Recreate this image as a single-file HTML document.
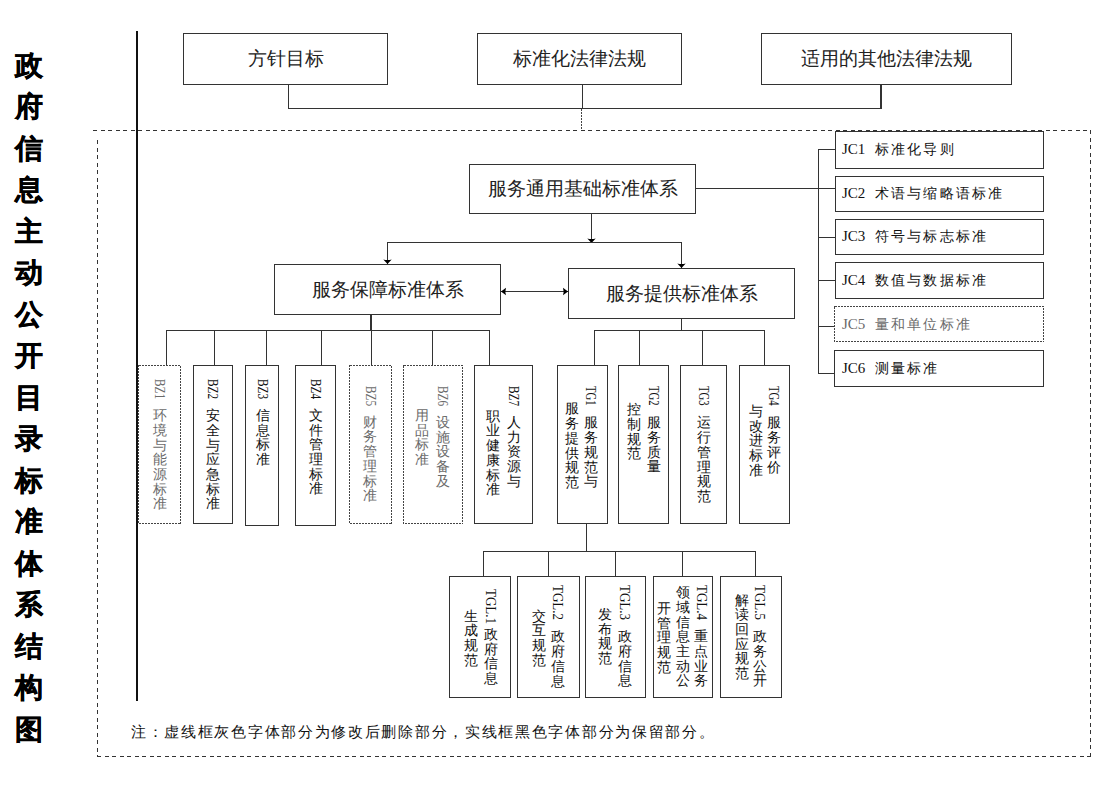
<!DOCTYPE html>
<html><head><meta charset="utf-8">
<style>
*{margin:0;padding:0;box-sizing:border-box}
html,body{width:1118px;height:790px;background:#fff;overflow:hidden}
body{position:relative;font-family:"Liberation Sans",sans-serif;color:#111}
.a{position:absolute}
.big{position:absolute;font-size:19px;text-align:center;white-space:nowrap;color:#222}
.ttl{position:absolute;left:15px;font-size:28px;font-weight:bold;line-height:1;color:#000;-webkit-text-stroke:0.4px #000}
.lat{position:absolute;transform-origin:0 0;font-size:14.5px;line-height:14px;white-space:nowrap;color:#111;font-family:"Liberation Serif",serif}
.cj{position:absolute;width:15px;text-align:center;font-size:14px;line-height:15px;color:#111}
.jc{position:absolute;font-size:15px;line-height:15px;white-space:nowrap;color:#111;font-family:"Liberation Serif",serif}
.jc b{font-weight:normal;font-size:13.8px;letter-spacing:2.05px;margin-left:10px}
.note{position:absolute;font-size:15px;line-height:15px;white-space:nowrap;color:#111;letter-spacing:1.7px}
.g{color:#6a6a6a}
</style></head><body>
<svg class="a" style="left:0;top:0" width="1118" height="790" viewBox="0 0 1118 790" shape-rendering="crispEdges">
<rect x="136" y="31" width="2" height="670" fill="#111"/>
<line x1="93" y1="130.5" x2="1091" y2="130.5" stroke="#333" stroke-width="1.2" stroke-dasharray="4 3.5"/>
<line x1="1090.5" y1="130" x2="1090.5" y2="757" stroke="#333" stroke-width="1.2" stroke-dasharray="4 3.5"/>
<line x1="97" y1="756.5" x2="1091" y2="756.5" stroke="#333" stroke-width="1.2" stroke-dasharray="4 3.5"/>
<line x1="97.5" y1="140" x2="97.5" y2="757" stroke="#333" stroke-width="1.2" stroke-dasharray="4 3.5"/>
<line x1="288.5" y1="84" x2="288.5" y2="109" stroke="#333" stroke-width="1"/>
<line x1="582.5" y1="84" x2="582.5" y2="109" stroke="#333" stroke-width="1"/>
<rect x="880" y="84" width="2" height="25" fill="#333"/>
<line x1="288" y1="108.5" x2="882" y2="108.5" stroke="#333" stroke-width="1"/>
<line x1="581.5" y1="109" x2="581.5" y2="130" stroke="#444" stroke-width="1" stroke-dasharray="1.5 1.5"/>
<rect x="183.5" y="33.5" width="204" height="51" fill="#fff" stroke="#333" stroke-width="1"/>
<rect x="477.5" y="33.5" width="204" height="51" fill="#fff" stroke="#333" stroke-width="1"/>
<rect x="761.5" y="33.5" width="250" height="51" fill="#fff" stroke="#333" stroke-width="1"/>
<rect x="469.5" y="164.5" width="226" height="49" fill="#fff" stroke="#333" stroke-width="1"/>
<line x1="695" y1="188.5" x2="836" y2="188.5" stroke="#333" stroke-width="1"/>
<line x1="591.5" y1="213" x2="591.5" y2="243" stroke="#333" stroke-width="1"/>
<path shape-rendering="geometricPrecision" d="M591.5,243 L587.3,238.4 Q591.5,239.4 595.7,238.4 Z" fill="#000"/>
<line x1="387" y1="242.5" x2="682" y2="242.5" stroke="#333" stroke-width="1"/>
<line x1="387.5" y1="242" x2="387.5" y2="264" stroke="#333" stroke-width="1"/>
<path shape-rendering="geometricPrecision" d="M387.5,264 L383.3,259.4 Q387.5,260.4 391.7,259.4 Z" fill="#000"/>
<line x1="681.5" y1="242" x2="681.5" y2="268" stroke="#333" stroke-width="1"/>
<path shape-rendering="geometricPrecision" d="M681.5,268 L677.3,263.4 Q681.5,264.4 685.7,263.4 Z" fill="#000"/>
<rect x="274.5" y="264.5" width="226" height="50" fill="#fff" stroke="#333" stroke-width="1"/>
<rect x="568.5" y="268.5" width="226" height="50" fill="#fff" stroke="#333" stroke-width="1"/>
<line x1="501" y1="291.5" x2="568" y2="291.5" stroke="#333" stroke-width="1"/>
<path shape-rendering="geometricPrecision" d="M501,291.5 L506,287.7 Q504.8,291.5 506,295.3 Z" fill="#000"/>
<path shape-rendering="geometricPrecision" d="M568,291.5 L563,287.7 Q564.2,291.5 563,295.3 Z" fill="#000"/>
<line x1="371.5" y1="314" x2="371.5" y2="331" stroke="#333" stroke-width="1"/>
<line x1="370.5" y1="314" x2="370.5" y2="331" stroke="#333" stroke-width="1"/>
<line x1="166" y1="330.5" x2="490" y2="330.5" stroke="#333" stroke-width="1"/>
<line x1="166.5" y1="330" x2="166.5" y2="366" stroke="#333" stroke-width="1"/>
<line x1="214.5" y1="330" x2="214.5" y2="366" stroke="#333" stroke-width="1"/>
<line x1="266.5" y1="330" x2="266.5" y2="366" stroke="#333" stroke-width="1"/>
<line x1="321.5" y1="330" x2="321.5" y2="366" stroke="#333" stroke-width="1"/>
<line x1="371.5" y1="330" x2="371.5" y2="366" stroke="#333" stroke-width="1"/>
<line x1="432.5" y1="330" x2="432.5" y2="366" stroke="#333" stroke-width="1"/>
<line x1="489.5" y1="330" x2="489.5" y2="366" stroke="#333" stroke-width="1"/>
<line x1="681.5" y1="318" x2="681.5" y2="331" stroke="#333" stroke-width="1"/>
<line x1="594" y1="330.5" x2="765" y2="330.5" stroke="#333" stroke-width="1"/>
<line x1="594.5" y1="330" x2="594.5" y2="366" stroke="#333" stroke-width="1"/>
<line x1="639.5" y1="330" x2="639.5" y2="366" stroke="#333" stroke-width="1"/>
<line x1="702.5" y1="330" x2="702.5" y2="366" stroke="#333" stroke-width="1"/>
<line x1="764.5" y1="330" x2="764.5" y2="366" stroke="#333" stroke-width="1"/>
<rect x="138.5" y="365.5" width="42" height="158" fill="#fff" stroke="#444" stroke-width="1" stroke-dasharray="2 1"/>
<rect x="193.5" y="365.5" width="39" height="158" fill="#fff" stroke="#333" stroke-width="1"/>
<rect x="245.5" y="365.5" width="33" height="160" fill="#fff" stroke="#333" stroke-width="1"/>
<rect x="295.5" y="365.5" width="40" height="160" fill="#fff" stroke="#333" stroke-width="1"/>
<rect x="349.5" y="365.5" width="42" height="158" fill="#fff" stroke="#444" stroke-width="1" stroke-dasharray="2 1"/>
<rect x="403.5" y="365.5" width="59" height="158" fill="#fff" stroke="#444" stroke-width="1" stroke-dasharray="2 1"/>
<rect x="474.5" y="365.5" width="58" height="158" fill="#fff" stroke="#333" stroke-width="1"/>
<rect x="557.5" y="365.5" width="50" height="158" fill="#fff" stroke="#333" stroke-width="1"/>
<rect x="618.5" y="365.5" width="50" height="158" fill="#fff" stroke="#333" stroke-width="1"/>
<rect x="680.5" y="365.5" width="46" height="158" fill="#fff" stroke="#333" stroke-width="1"/>
<rect x="739.5" y="365.5" width="50" height="158" fill="#fff" stroke="#333" stroke-width="1"/>
<line x1="586.5" y1="523" x2="586.5" y2="552" stroke="#333" stroke-width="1"/>
<line x1="483" y1="551.5" x2="756" y2="551.5" stroke="#333" stroke-width="1"/>
<line x1="483.5" y1="551" x2="483.5" y2="577" stroke="#333" stroke-width="1"/>
<line x1="548.5" y1="551" x2="548.5" y2="577" stroke="#333" stroke-width="1"/>
<line x1="615.5" y1="551" x2="615.5" y2="577" stroke="#333" stroke-width="1"/>
<line x1="682.5" y1="551" x2="682.5" y2="577" stroke="#333" stroke-width="1"/>
<line x1="755.5" y1="551" x2="755.5" y2="577" stroke="#333" stroke-width="1"/>
<rect x="449.5" y="576.5" width="61" height="121" fill="#fff" stroke="#333" stroke-width="1"/>
<rect x="517.5" y="576.5" width="62" height="121" fill="#fff" stroke="#333" stroke-width="1"/>
<rect x="585.5" y="576.5" width="60" height="121" fill="#fff" stroke="#333" stroke-width="1"/>
<rect x="653.5" y="576.5" width="59" height="121" fill="#fff" stroke="#333" stroke-width="1"/>
<rect x="720.5" y="576.5" width="61" height="121" fill="#fff" stroke="#333" stroke-width="1"/>
<line x1="818.5" y1="149" x2="818.5" y2="374" stroke="#333" stroke-width="1"/>
<line x1="818" y1="149.5" x2="836" y2="149.5" stroke="#333" stroke-width="1"/>
<line x1="818" y1="188.5" x2="836" y2="188.5" stroke="#333" stroke-width="1"/>
<line x1="818" y1="237.5" x2="836" y2="237.5" stroke="#333" stroke-width="1"/>
<line x1="818" y1="280.5" x2="836" y2="280.5" stroke="#333" stroke-width="1"/>
<line x1="818" y1="326.5" x2="836" y2="326.5" stroke="#333" stroke-width="1"/>
<line x1="818" y1="373.5" x2="836" y2="373.5" stroke="#333" stroke-width="1"/>
<rect x="835.5" y="131.5" width="208" height="37" fill="#fff" stroke="#333" stroke-width="1"/>
<rect x="835.5" y="176.5" width="208" height="35" fill="#fff" stroke="#333" stroke-width="1"/>
<rect x="835.5" y="219.5" width="208" height="35" fill="#fff" stroke="#333" stroke-width="1"/>
<rect x="835.5" y="262.5" width="208" height="36" fill="#fff" stroke="#333" stroke-width="1"/>
<rect x="834.5" y="306.5" width="209" height="35" fill="#fff" stroke="#444" stroke-width="1" stroke-dasharray="2 1"/>
<rect x="834.5" y="350.5" width="209" height="36" fill="#fff" stroke="#333" stroke-width="1"/>
</svg>
<div class="ttl" style="top:51.8px">政</div>
<div class="ttl" style="top:93.3px">府</div>
<div class="ttl" style="top:134.8px">信</div>
<div class="ttl" style="top:176.3px">息</div>
<div class="ttl" style="top:217.8px">主</div>
<div class="ttl" style="top:259.3px">动</div>
<div class="ttl" style="top:300.8px">公</div>
<div class="ttl" style="top:342.3px">开</div>
<div class="ttl" style="top:383.8px">目</div>
<div class="ttl" style="top:425.3px">录</div>
<div class="ttl" style="top:466.8px">标</div>
<div class="ttl" style="top:508.3px">准</div>
<div class="ttl" style="top:549.8px">体</div>
<div class="ttl" style="top:591.3px">系</div>
<div class="ttl" style="top:632.8px">结</div>
<div class="ttl" style="top:674.3px">构</div>
<div class="ttl" style="top:715.8px">图</div>
<div class="big" style="left:183px;top:33px;width:205px;height:52px;line-height:52px">方针目标</div>
<div class="big" style="left:477px;top:33px;width:205px;height:52px;line-height:52px">标准化法律法规</div>
<div class="big" style="left:761px;top:33px;width:251px;height:52px;line-height:52px">适用的其他法律法规</div>
<div class="big" style="left:469px;top:164px;width:227px;height:50px;line-height:50px">服务通用基础标准体系</div>
<div class="big" style="left:274px;top:264px;width:227px;height:51px;line-height:51px">服务保障标准体系</div>
<div class="big" style="left:568px;top:268px;width:227px;height:51px;line-height:51px">服务提供标准体系</div>
<div class="jc" style="left:842px;top:142px">JC1<b>标准化导则</b></div>
<div class="jc" style="left:842px;top:186px">JC2<b>术语与缩略语标准</b></div>
<div class="jc" style="left:842px;top:229px">JC3<b>符号与标志标准</b></div>
<div class="jc" style="left:842px;top:273px">JC4<b>数值与数据标准</b></div>
<div class="jc g" style="left:842px;top:317px">JC5<b>量和单位标准</b></div>
<div class="jc" style="left:842px;top:361px">JC6<b>测量标准</b></div>
<div class="lat g" style="left:166.6px;top:378.5px;transform:rotate(90deg) scaleX(0.776)">BZ1</div>
<div class="cj g" style="left:152.0px;top:408.10px">环</div>
<div class="cj g" style="left:152.0px;top:422.80px">境</div>
<div class="cj g" style="left:152.0px;top:437.50px">与</div>
<div class="cj g" style="left:152.0px;top:452.20px">能</div>
<div class="cj g" style="left:152.0px;top:466.90px">源</div>
<div class="cj g" style="left:152.0px;top:481.60px">标</div>
<div class="cj g" style="left:152.0px;top:496.30px">准</div>
<div class="lat" style="left:220.3px;top:378.5px;transform:rotate(90deg) scaleX(0.776)">BZ2</div>
<div class="cj" style="left:205.7px;top:408.10px">安</div>
<div class="cj" style="left:205.7px;top:422.80px">全</div>
<div class="cj" style="left:205.7px;top:437.50px">与</div>
<div class="cj" style="left:205.7px;top:452.20px">应</div>
<div class="cj" style="left:205.7px;top:466.90px">急</div>
<div class="cj" style="left:205.7px;top:481.60px">标</div>
<div class="cj" style="left:205.7px;top:496.30px">准</div>
<div class="lat" style="left:269.9px;top:379.0px;transform:rotate(90deg) scaleX(0.776)">BZ3</div>
<div class="cj" style="left:255.3px;top:407.90px">信</div>
<div class="cj" style="left:255.3px;top:422.60px">息</div>
<div class="cj" style="left:255.3px;top:437.30px">标</div>
<div class="cj" style="left:255.3px;top:452.00px">准</div>
<div class="lat" style="left:322.8px;top:379.0px;transform:rotate(90deg) scaleX(0.776)">BZ4</div>
<div class="cj" style="left:308.2px;top:407.90px">文</div>
<div class="cj" style="left:308.2px;top:422.60px">件</div>
<div class="cj" style="left:308.2px;top:437.30px">管</div>
<div class="cj" style="left:308.2px;top:452.00px">理</div>
<div class="cj" style="left:308.2px;top:466.70px">标</div>
<div class="cj" style="left:308.2px;top:481.40px">准</div>
<div class="lat g" style="left:377.5px;top:386.0px;transform:rotate(90deg) scaleX(0.776)">BZ5</div>
<div class="cj g" style="left:362.9px;top:414.70px">财</div>
<div class="cj g" style="left:362.9px;top:429.40px">务</div>
<div class="cj g" style="left:362.9px;top:444.10px">管</div>
<div class="cj g" style="left:362.9px;top:458.80px">理</div>
<div class="cj g" style="left:362.9px;top:473.50px">标</div>
<div class="cj g" style="left:362.9px;top:488.20px">准</div>
<div class="lat g" style="left:449.9px;top:386.0px;transform:rotate(90deg) scaleX(0.776)">BZ6</div>
<div class="cj g" style="left:435.3px;top:414.90px">设</div>
<div class="cj g" style="left:435.3px;top:429.60px">施</div>
<div class="cj g" style="left:435.3px;top:444.30px">设</div>
<div class="cj g" style="left:435.3px;top:459.00px">备</div>
<div class="cj g" style="left:435.3px;top:473.70px">及</div>
<div class="cj g" style="left:414.5px;top:407.90px">用</div>
<div class="cj g" style="left:414.5px;top:422.60px">品</div>
<div class="cj g" style="left:414.5px;top:437.30px">标</div>
<div class="cj g" style="left:414.5px;top:452.00px">准</div>
<div class="lat" style="left:520.9px;top:386.0px;transform:rotate(90deg) scaleX(0.776)">BZ7</div>
<div class="cj" style="left:506.3px;top:414.90px">人</div>
<div class="cj" style="left:506.3px;top:429.60px">力</div>
<div class="cj" style="left:506.3px;top:444.30px">资</div>
<div class="cj" style="left:506.3px;top:459.00px">源</div>
<div class="cj" style="left:506.3px;top:473.70px">与</div>
<div class="cj" style="left:485.5px;top:408.70px">职</div>
<div class="cj" style="left:485.5px;top:423.40px">业</div>
<div class="cj" style="left:485.5px;top:438.10px">健</div>
<div class="cj" style="left:485.5px;top:452.80px">康</div>
<div class="cj" style="left:485.5px;top:467.50px">标</div>
<div class="cj" style="left:485.5px;top:482.20px">准</div>
<div class="lat" style="left:598.4px;top:385.7px;transform:rotate(90deg) scaleX(0.733)">TG1</div>
<div class="cj" style="left:583.8px;top:415.40px">服</div>
<div class="cj" style="left:583.8px;top:430.10px">务</div>
<div class="cj" style="left:583.8px;top:444.80px">规</div>
<div class="cj" style="left:583.8px;top:459.50px">范</div>
<div class="cj" style="left:583.8px;top:474.20px">与</div>
<div class="cj" style="left:564.9px;top:401.40px">服</div>
<div class="cj" style="left:564.9px;top:416.10px">务</div>
<div class="cj" style="left:564.9px;top:430.80px">提</div>
<div class="cj" style="left:564.9px;top:445.50px">供</div>
<div class="cj" style="left:564.9px;top:460.20px">规</div>
<div class="cj" style="left:564.9px;top:474.90px">范</div>
<div class="lat" style="left:660.7px;top:385.7px;transform:rotate(90deg) scaleX(0.733)">TG2</div>
<div class="cj" style="left:646.1px;top:415.20px">服</div>
<div class="cj" style="left:646.1px;top:429.90px">务</div>
<div class="cj" style="left:646.1px;top:444.60px">质</div>
<div class="cj" style="left:646.1px;top:459.30px">量</div>
<div class="cj" style="left:626.6px;top:402.20px">控</div>
<div class="cj" style="left:626.6px;top:416.90px">制</div>
<div class="cj" style="left:626.6px;top:431.60px">规</div>
<div class="cj" style="left:626.6px;top:446.30px">范</div>
<div class="lat" style="left:711.0px;top:385.7px;transform:rotate(90deg) scaleX(0.733)">TG3</div>
<div class="cj" style="left:696.4px;top:415.40px">运</div>
<div class="cj" style="left:696.4px;top:430.10px">行</div>
<div class="cj" style="left:696.4px;top:444.80px">管</div>
<div class="cj" style="left:696.4px;top:459.50px">理</div>
<div class="cj" style="left:696.4px;top:474.20px">规</div>
<div class="cj" style="left:696.4px;top:488.90px">范</div>
<div class="lat" style="left:780.7px;top:385.7px;transform:rotate(90deg) scaleX(0.733)">TG4</div>
<div class="cj" style="left:766.1px;top:415.40px">服</div>
<div class="cj" style="left:766.1px;top:430.10px">务</div>
<div class="cj" style="left:766.1px;top:444.80px">评</div>
<div class="cj" style="left:766.1px;top:459.50px">价</div>
<div class="cj" style="left:748.0px;top:403.90px">与</div>
<div class="cj" style="left:748.0px;top:418.60px">改</div>
<div class="cj" style="left:748.0px;top:433.30px">进</div>
<div class="cj" style="left:748.0px;top:448.00px">标</div>
<div class="cj" style="left:748.0px;top:462.70px">准</div>
<div class="lat" style="left:497.6px;top:588.7px;transform:rotate(90deg) scaleX(0.896)">TGL.1</div>
<div class="cj" style="left:483.0px;top:627.00px">政</div>
<div class="cj" style="left:483.0px;top:641.70px">府</div>
<div class="cj" style="left:483.0px;top:656.40px">信</div>
<div class="cj" style="left:483.0px;top:671.10px">息</div>
<div class="cj" style="left:463.3px;top:608.70px">生</div>
<div class="cj" style="left:463.3px;top:623.40px">成</div>
<div class="cj" style="left:463.3px;top:638.10px">规</div>
<div class="cj" style="left:463.3px;top:652.80px">范</div>
<div class="lat" style="left:565.0px;top:585.0px;transform:rotate(90deg) scaleX(0.896)">TGL.2</div>
<div class="cj" style="left:550.4px;top:629.40px">政</div>
<div class="cj" style="left:550.4px;top:644.10px">府</div>
<div class="cj" style="left:550.4px;top:658.80px">信</div>
<div class="cj" style="left:550.4px;top:673.50px">息</div>
<div class="cj" style="left:531.2px;top:608.70px">交</div>
<div class="cj" style="left:531.2px;top:623.40px">互</div>
<div class="cj" style="left:531.2px;top:638.10px">规</div>
<div class="cj" style="left:531.2px;top:652.80px">范</div>
<div class="lat" style="left:632.3px;top:585.0px;transform:rotate(90deg) scaleX(0.896)">TGL.3</div>
<div class="cj" style="left:617.7px;top:629.20px">政</div>
<div class="cj" style="left:617.7px;top:643.90px">府</div>
<div class="cj" style="left:617.7px;top:658.60px">信</div>
<div class="cj" style="left:617.7px;top:673.30px">息</div>
<div class="cj" style="left:597.7px;top:607.00px">发</div>
<div class="cj" style="left:597.7px;top:621.70px">布</div>
<div class="cj" style="left:597.7px;top:636.40px">规</div>
<div class="cj" style="left:597.7px;top:651.10px">范</div>
<div class="lat" style="left:708.5px;top:585.0px;transform:rotate(90deg) scaleX(0.896)">TGL.4</div>
<div class="cj" style="left:693.9px;top:629.20px">重</div>
<div class="cj" style="left:693.9px;top:643.90px">点</div>
<div class="cj" style="left:693.9px;top:658.60px">业</div>
<div class="cj" style="left:693.9px;top:673.30px">务</div>
<div class="cj" style="left:675.9px;top:585.20px">领</div>
<div class="cj" style="left:675.9px;top:599.90px">域</div>
<div class="cj" style="left:675.9px;top:614.60px">信</div>
<div class="cj" style="left:675.9px;top:629.30px">息</div>
<div class="cj" style="left:675.9px;top:644.00px">主</div>
<div class="cj" style="left:675.9px;top:658.70px">动</div>
<div class="cj" style="left:675.9px;top:673.40px">公</div>
<div class="cj" style="left:656.2px;top:600.90px">开</div>
<div class="cj" style="left:656.2px;top:615.60px">管</div>
<div class="cj" style="left:656.2px;top:630.30px">理</div>
<div class="cj" style="left:656.2px;top:645.00px">规</div>
<div class="cj" style="left:656.2px;top:659.70px">范</div>
<div class="lat" style="left:767.4px;top:585.0px;transform:rotate(90deg) scaleX(0.896)">TGL.5</div>
<div class="cj" style="left:752.8px;top:629.20px">政</div>
<div class="cj" style="left:752.8px;top:643.90px">务</div>
<div class="cj" style="left:752.8px;top:658.60px">公</div>
<div class="cj" style="left:752.8px;top:673.30px">开</div>
<div class="cj" style="left:734.1px;top:592.50px">解</div>
<div class="cj" style="left:734.1px;top:607.20px">读</div>
<div class="cj" style="left:734.1px;top:621.90px">回</div>
<div class="cj" style="left:734.1px;top:636.60px">应</div>
<div class="cj" style="left:734.1px;top:651.30px">规</div>
<div class="cj" style="left:734.1px;top:666.00px">范</div>
<div class="note" style="left:131px;top:724px">注：虚线框灰色字体部分为修改后删除部分，实线框黑色字体部分为保留部分。</div>
</body></html>
